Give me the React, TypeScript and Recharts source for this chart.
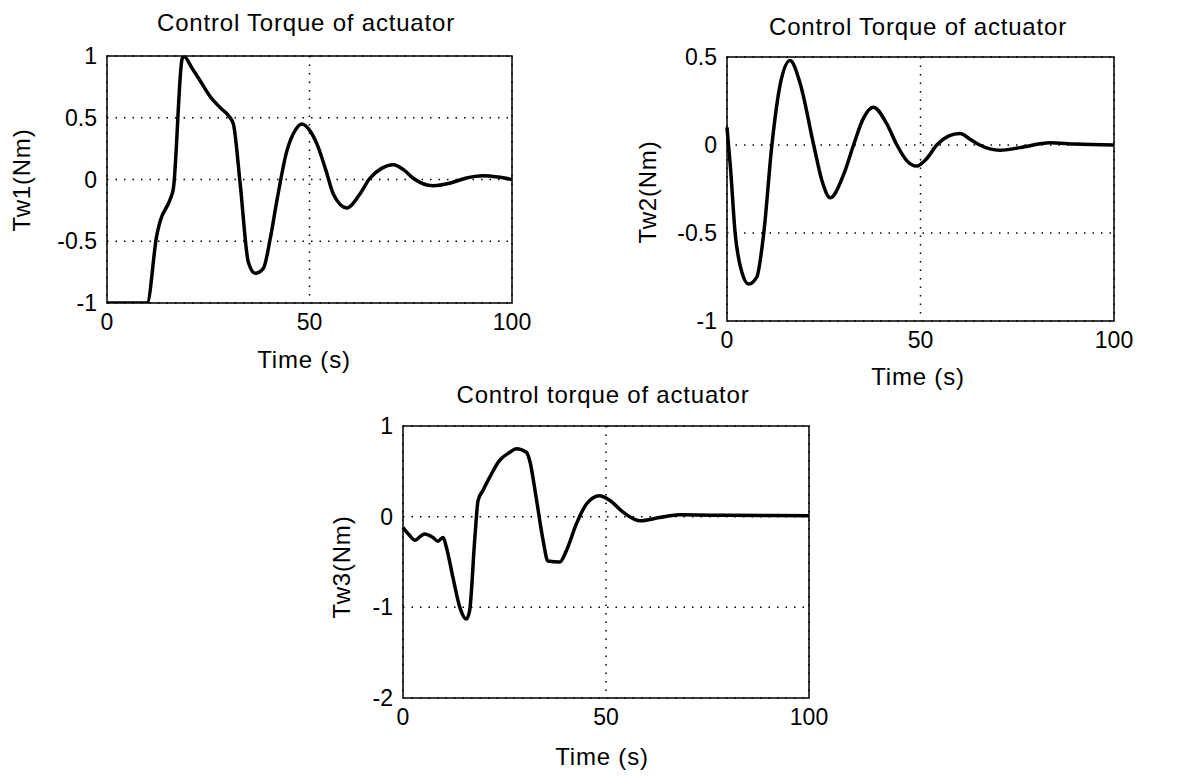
import React from "react";
import { LineChart, Line, XAxis, YAxis, CartesianGrid, ReferenceArea } from "recharts";

const time1 = [0, 5, 9.9, 12.3, 13.1, 15.6, 16.4, 18.5, 18.9, 21, 23, 25.5, 28, 30.4, 31.2, 32.9, 34.9, 36.6, 38.6, 40.3, 41.9, 44.4, 46.5, 48.1, 50, 51.8, 54, 55.9, 59.2, 62.4, 64.9, 67.8, 70.7, 73.2, 75.6, 80.5, 84.6, 88.5, 92.8, 96.5, 100];
const tw1 = [-1, -1, -1, -0.45, -0.34, -0.16, -0.07, 0.97, 1.0, 0.9, 0.8, 0.67, 0.58, 0.5, 0.45, -0.04, -0.67, -0.76, -0.72, -0.48, -0.18, 0.23, 0.4, 0.45, 0.4, 0.29, 0.08, -0.12, -0.23, -0.12, 0.01, 0.09, 0.12, 0.08, 0.01, -0.05, -0.03, 0.01, 0.03, 0.02, 0];

const time2 = [0, 0.9, 2.1, 3.8, 5.6, 7.7, 9.5, 11.6, 13.8, 16.3, 18.9, 22.4, 24.5, 26.7, 30.1, 32.7, 35.2, 37.8, 41.3, 43.9, 46.5, 49, 51.5, 54.2, 57.2, 60.2, 63, 65.3, 70.5, 75.7, 83.4, 90, 100];
const tw2 = [0.1, -0.13, -0.5, -0.72, -0.79, -0.75, -0.5, 0, 0.35, 0.48, 0.35, 0, -0.2, -0.3, -0.17, 0, 0.15, 0.215, 0.12, 0, -0.09, -0.12, -0.08, 0, 0.05, 0.065, 0.03, 0, -0.03, -0.015, 0.013, 0.005, 0];

const time3 = [0, 1.5, 2.9, 5.3, 7.4, 8.6, 9.9, 10.7, 12.3, 14, 15.6, 16.4, 17.7, 18.5, 19.7, 21.3, 23.8, 26.3, 27.9, 30.4, 31.2, 32.8, 34.5, 35.7, 38.6, 40.2, 42.7, 45.2, 48.4, 50.9, 54.2, 58.3, 63.2, 68.1, 80, 100];
const tw3 = [-0.12, -0.2, -0.26, -0.19, -0.23, -0.27, -0.23, -0.34, -0.67, -1.0, -1.13, -1.04, -0.23, 0.18, 0.29, 0.43, 0.62, 0.71, 0.75, 0.71, 0.62, 0.21, -0.26, -0.49, -0.5, -0.38, -0.08, 0.14, 0.23, 0.18, 0.05, -0.045, -0.01, 0.02, 0.015, 0.01];

const xTicks = [0, 50, 100];
const yTicks1 = [-1, -0.5, 0, 0.5, 1];
const yTicks2 = [-1, -0.5, 0, 0.5];
const yTicks3 = [-2, -1, 0, 1];

const titles = ["Control Torque of actuator", "Control Torque of actuator", "Control torque of actuator"];
const yLabels = ["Tw1(Nm)", "Tw2(Nm)", "Tw3(Nm)"];
const xLabel = "Time (s)";

const FONT = '"Liberation Sans", Arial, Helvetica, sans-serif';

const zip = (t: number[], v: number[]) => t.map((x, i) => ({ t: x, v: v[i] }));

type PanelProps = {
  data: { t: number; v: number }[];
  yDomain: [number, number];
  yTicks: number[];
  box: { left: number; top: number; width: number; height: number };
  title: string;
  titlePos: [number, number];
  yLabel: string;
  yLabelPos: [number, number];
  xLabelPos: [number, number];
};

const PADL = 80;
const PADT = 22;
const PADR = 40;
const PADB = 40;

function Panel(p: PanelProps) {
  const { box } = p;
  const textStyle: React.CSSProperties = {
    position: "absolute",
    fontFamily: FONT,
    fontSize: 24,
    letterSpacing: 0.8,
    color: "#000",
    whiteSpace: "nowrap",
    lineHeight: 1,
  };
  return (
    <>
      <div style={{ position: "absolute", left: box.left - PADL, top: box.top - PADT }}>
        <LineChart
          width={PADL + box.width + PADR}
          height={PADT + box.height + PADB}
          data={p.data}
          margin={{ top: PADT, right: PADR, bottom: 0, left: 0 }}
        >
          <CartesianGrid stroke="#000" strokeDasharray="1.5 7" strokeWidth={1.5} />
          <XAxis
            dataKey="t"
            type="number"
            domain={[0, 100]}
            ticks={xTicks}
            height={PADB}
            tickLine={false}
            axisLine={false}
            tickSize={0}
            tickMargin={11}
            interval={0}
            tick={{ fill: "#000", fontSize: 23, fontFamily: FONT }}
          />
          <YAxis
            dataKey="v"
            type="number"
            domain={p.yDomain}
            ticks={p.yTicks}
            width={PADL}
            tickLine={false}
            axisLine={false}
            tickSize={0}
            tickMargin={10}
            interval={0}
            allowDataOverflow
            tick={{ fill: "#000", fontSize: 23, fontFamily: FONT }}
          />
          <ReferenceArea
            x1={0}
            x2={100}
            y1={p.yDomain[0]}
            y2={p.yDomain[1]}
            stroke="#000"
            strokeWidth={1.5}
            fill="none"
            fillOpacity={0}
            strokeOpacity={1}
          />
          <Line
            type="monotone"
            dataKey="v"
            stroke="#000"
            strokeWidth={3.5}
            dot={false}
            isAnimationActive={false}
          />
        </LineChart>
      </div>
      <div style={{ ...textStyle, left: p.titlePos[0], top: p.titlePos[1], transform: "translate(-50%,-50%)" }}>{p.title}</div>
      <div style={{ ...textStyle, left: p.xLabelPos[0], top: p.xLabelPos[1], transform: "translate(-50%,-50%)" }}>{xLabel}</div>
      <div
        style={{
          ...textStyle,
          left: p.yLabelPos[0],
          top: p.yLabelPos[1],
          transform: "translate(-50%,-50%) rotate(-90deg)",
        }}
      >
        {p.yLabel}
      </div>
    </>
  );
}

export default function App() {
  return (
    <div style={{ position: "absolute", left: 0, top: 0, width: 1190, height: 776, background: "#fff", overflow: "hidden" }}>
      <Panel
        data={zip(time1, tw1)}
        yDomain={[-1, 1]}
        yTicks={yTicks1}
        box={{ left: 107, top: 56, width: 405, height: 247 }}
        title={titles[0]}
        titlePos={[306, 23]}
        yLabel={yLabels[0]}
        yLabelPos={[22, 180]}
        xLabelPos={[304, 360]}
      />
      <Panel
        data={zip(time2, tw2)}
        yDomain={[-1, 0.5]}
        yTicks={yTicks2}
        box={{ left: 727, top: 57, width: 387, height: 264 }}
        title={titles[1]}
        titlePos={[918, 27]}
        yLabel={yLabels[1]}
        yLabelPos={[648, 192]}
        xLabelPos={[918, 377]}
      />
      <Panel
        data={zip(time3, tw3)}
        yDomain={[-2, 1]}
        yTicks={yTicks3}
        box={{ left: 403, top: 426, width: 406, height: 272 }}
        title={titles[2]}
        titlePos={[603, 395]}
        yLabel={yLabels[2]}
        yLabelPos={[342, 567]}
        xLabelPos={[602, 757]}
      />
    </div>
  );
}
